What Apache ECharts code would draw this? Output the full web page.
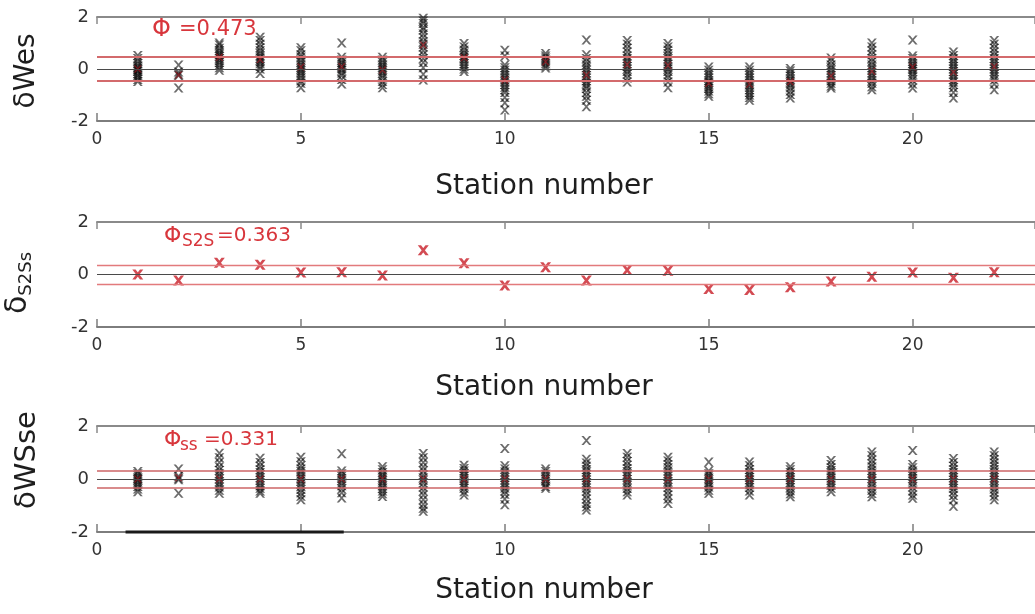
<!DOCTYPE html>
<html><head><meta charset="utf-8">
<script src="https://cdn.jsdelivr.net/npm/echarts@6/dist/echarts.min.js"></script>
<style>html,body{margin:0;padding:0;background:#fff}#c{width:1035px;height:614px}</style>
</head><body><div id="c"></div>
<script>
// ---------- data ----------
const stations = [1,2,3,4,5,6,7,8,9,10,11,12,13,14,15,16,17,18,19,20,21,22];
const xMin = 0, xMax = 23, xStep = 5;
const yMin = -2, yMax = 2, yStep = 2;
const phiValues = [0.473, 0.363, 0.331];
const phiLabels = ['', 'S2S', 'ss'];
const phiTexts = ['=0.473', '=0.363', '=0.331'];
const yNames = ['δWes', 'δS2Ss', 'δWSse'];
const xName = 'Station number';

// station terms (red crosses, middle panel)
const s2s = [0.0,-0.23,0.45,0.37,0.08,0.09,-0.04,0.92,0.43,-0.42,0.28,-0.23,0.17,0.14,-0.55,-0.59,-0.49,-0.27,-0.09,0.08,-0.12,0.09];

// event terms per station (top panel)
const wesEvents = [
  [0.52,0.4,0.3,0.2,0.12,0.05,0,-0.05,-0.1,-0.18,-0.25,-0.32,-0.4,-0.48],
  [0.15,-0.12,-0.2,-0.25,-0.73],
  [1.0,0.92,0.8,0.7,0.62,0.55,0.48,0.4,0.33,0.25,0.15,0.05,-0.05],
  [1.22,1.1,0.95,0.82,0.7,0.6,0.5,0.42,0.35,0.28,0.2,0.1,0,-0.17],
  [0.82,0.7,0.55,0.45,0.35,0.25,0.15,0.08,0,-0.08,-0.15,-0.25,-0.35,-0.45,-0.55,-0.72],
  [1.0,0.45,0.35,0.25,0.18,0.1,0.02,-0.05,-0.15,-0.25,-0.4,-0.58],
  [0.45,0.35,0.25,0.15,0.08,0,-0.08,-0.15,-0.25,-0.35,-0.48,-0.6,-0.72],
  [1.95,1.85,1.75,1.6,1.5,1.35,1.2,1.05,0.95,0.85,0.7,0.55,0.4,0.25,0.05,-0.2,-0.42],
  [0.98,0.85,0.72,0.62,0.52,0.45,0.38,0.3,0.2,0.1,0,-0.1],
  [0.72,0.5,0.15,0.05,-0.05,-0.15,-0.25,-0.35,-0.42,-0.5,-0.6,-0.7,-0.8,-0.9,-1.1,-1.3,-1.58],
  [0.6,0.5,0.42,0.35,0.28,0.2,0.12,0.04],
  [1.12,0.55,0.4,0.28,0.15,0.05,-0.05,-0.15,-0.25,-0.35,-0.45,-0.55,-0.65,-0.75,-0.9,-1.05,-1.2,-1.45],
  [1.1,0.95,0.8,0.65,0.5,0.4,0.3,0.2,0.1,0,-0.1,-0.2,-0.35,-0.5],
  [0.98,0.85,0.72,0.6,0.48,0.38,0.28,0.18,0.08,0,-0.1,-0.22,-0.35,-0.5,-0.72],
  [0.08,-0.05,-0.15,-0.25,-0.35,-0.45,-0.52,-0.6,-0.68,-0.75,-0.85,-0.95,-1.05],
  [0.08,-0.05,-0.15,-0.25,-0.35,-0.45,-0.55,-0.62,-0.7,-0.8,-0.9,-1.0,-1.1,-1.2],
  [0.02,-0.08,-0.18,-0.28,-0.38,-0.46,-0.54,-0.62,-0.72,-0.85,-0.98,-1.12],
  [0.42,0.3,0.15,0.05,-0.05,-0.15,-0.25,-0.35,-0.45,-0.55,-0.65,-0.73],
  [1.0,0.85,0.7,0.55,0.4,0.28,0.15,0.05,-0.05,-0.15,-0.25,-0.35,-0.45,-0.55,-0.68,-0.8],
  [1.12,0.5,0.4,0.3,0.2,0.12,0.05,-0.02,-0.1,-0.2,-0.3,-0.42,-0.58,-0.73],
  [0.65,0.52,0.4,0.3,0.2,0.1,0,-0.1,-0.2,-0.3,-0.4,-0.5,-0.6,-0.72,-0.9,-1.12],
  [1.1,0.95,0.8,0.65,0.52,0.4,0.3,0.2,0.1,0,-0.1,-0.2,-0.3,-0.42,-0.58,-0.8]
];

// within-station residuals per station (bottom panel)
const wsseEvents = [
  [0.28,0.2,0.12,0.05,0,-0.05,-0.12,-0.2,-0.28,-0.38,-0.48],
  [0.38,0.1,0.03,-0.03,-0.54],
  [0.97,0.8,0.62,0.45,0.32,0.2,0.1,0,-0.1,-0.2,-0.3,-0.42,-0.54],
  [0.78,0.62,0.48,0.35,0.25,0.15,0.05,-0.05,-0.15,-0.25,-0.35,-0.45,-0.54],
  [0.82,0.65,0.5,0.38,0.28,0.18,0.08,0,-0.08,-0.18,-0.28,-0.4,-0.52,-0.65,-0.78],
  [0.95,0.3,0.2,0.1,0.02,-0.06,-0.15,-0.25,-0.38,-0.52,-0.72],
  [0.46,0.35,0.25,0.15,0.08,0,-0.08,-0.15,-0.25,-0.35,-0.45,-0.56,-0.66],
  [0.96,0.8,0.62,0.45,0.3,0.15,0.05,-0.05,-0.15,-0.3,-0.45,-0.6,-0.78,-0.95,-1.1,-1.22],
  [0.52,0.4,0.3,0.2,0.1,0.02,-0.06,-0.15,-0.25,-0.35,-0.48,-0.6],
  [1.15,0.5,0.38,0.26,0.16,0.06,-0.04,-0.14,-0.24,-0.34,-0.45,-0.58,-0.75,-0.97],
  [0.38,0.28,0.18,0.08,0,-0.08,-0.18,-0.28,-0.35],
  [1.45,0.75,0.6,0.48,0.36,0.26,0.16,0.06,-0.04,-0.14,-0.24,-0.34,-0.46,-0.6,-0.75,-0.92,-1.05,-1.17],
  [0.96,0.82,0.66,0.52,0.4,0.28,0.18,0.08,-0.02,-0.12,-0.24,-0.36,-0.48,-0.6],
  [0.82,0.68,0.55,0.42,0.3,0.2,0.1,0,-0.1,-0.2,-0.32,-0.45,-0.6,-0.75,-0.92],
  [0.64,0.3,0.2,0.12,0.04,-0.04,-0.12,-0.2,-0.3,-0.42,-0.54],
  [0.64,0.5,0.36,0.25,0.15,0.06,-0.03,-0.12,-0.22,-0.32,-0.45,-0.6],
  [0.46,0.35,0.25,0.15,0.06,-0.03,-0.12,-0.22,-0.32,-0.44,-0.56,-0.67],
  [0.7,0.55,0.42,0.32,0.22,0.13,0.04,-0.05,-0.14,-0.24,-0.35,-0.48],
  [1.02,0.88,0.72,0.58,0.45,0.33,0.22,0.12,0.02,-0.08,-0.18,-0.3,-0.42,-0.55,-0.67],
  [1.08,0.55,0.42,0.3,0.2,0.1,0.02,-0.08,-0.18,-0.3,-0.45,-0.6,-0.73],
  [0.77,0.62,0.48,0.36,0.25,0.15,0.05,-0.05,-0.15,-0.25,-0.36,-0.48,-0.62,-0.78,-1.03],
  [1.02,0.88,0.74,0.6,0.48,0.36,0.25,0.15,0.05,-0.05,-0.15,-0.26,-0.38,-0.5,-0.64,-0.78]
];
// station means of within-station residuals (red in bottom panel)
const wsseMean = [0,0.05,0,0,0,0,0,0,0,0,0,0,0,0,0,0,0,0,0,0,0,0];
// stray black bar along the bottom of the lower panel (x extent)
const scaleBarX = [0.7, 6.05];

// ---------- styling / layout ----------
const FONT = 'DejaVu Sans';
const grids = [
  {left: 97, top: 17, width: 943, height: 104},
  {left: 97, top: 222, width: 943, height: 105},
  {left: 97, top: 426, width: 943, height: 106}
];
const crossMid = 'path://M0,0L2.3,0L10,10L7.7,10Z M7.7,0L10,0L2.3,10L0,10Z';
const crossBold = 'path://M0,0L3,0L10,10L7,10Z M7,0L10,0L3,10L0,10Z';
const redLine = ['#d36a6c', '#e27a7c', '#cc6466'];
const redLineW = [2, 1.3, 1.6];

function pairs(events) {
  const out = [];
  events.forEach((vals, i) => vals.forEach(v => out.push([stations[i], v])));
  return out;
}
function pts(vals) { return vals.map((v, i) => [stations[i], v]); }

const xAxes = [], yAxes = [];
grids.forEach((g, gi) => {
  xAxes.push({
    type: 'value', gridIndex: gi, position: 'bottom', min: xMin, max: xMax, interval: xStep,
    axisLine: {show: true, onZero: false, lineStyle: {color: '#7d7d7d', width: 2}},
    axisTick: {show: true, inside: true, length: 8, lineStyle: {color: '#7d7d7d', width: 1.5}},
    axisLabel: {show: true, margin: 10, fontFamily: FONT, fontSize: 17, color: '#333', showMaxLabel: false},
    splitLine: {show: false}
  });
  xAxes.push({
    type: 'value', gridIndex: gi, position: 'top', min: xMin, max: xMax, interval: xStep,
    axisLine: {show: true, onZero: false, lineStyle: {color: '#8a8a8a', width: 2}},
    axisTick: {show: true, inside: true, length: 7, lineStyle: {color: '#8a8a8a', width: 1.5}},
    axisLabel: {show: false}, splitLine: {show: false}
  });
  yAxes.push({
    type: 'value', gridIndex: gi, min: yMin, max: yMax, interval: yStep,
    axisLine: {show: false}, axisTick: {show: false}, splitLine: {show: false},
    axisLabel: {margin: 8, fontFamily: FONT, fontSize: 18, color: '#333'}
  });
});

function refLines(gi) {
  const p = phiValues[gi];
  return {
    type: 'line', xAxisIndex: gi * 2, yAxisIndex: gi, data: [], z: 1, silent: true,
    markLine: {
      silent: true, symbol: 'none', animation: false, label: {show: false},
      data: [
        {yAxis: p, lineStyle: {color: redLine[gi], width: redLineW[gi], type: 'solid'}},
        {yAxis: -p, lineStyle: {color: redLine[gi], width: redLineW[gi], type: 'solid'}},
        {yAxis: 0, lineStyle: {color: '#4a4a4a', width: 1, type: 'solid'}}
      ]
    }
  };
}

const series = [
  refLines(0),
  {type: 'scatter', xAxisIndex: 0, yAxisIndex: 0, z: 3, symbol: crossMid, symbolSize: [10, 9],
   itemStyle: {color: 'rgba(0,0,0,0.72)'}, data: pairs(wesEvents)},
  {type: 'scatter', xAxisIndex: 0, yAxisIndex: 0, z: 4, symbol: crossMid, symbolSize: [8, 7],
   itemStyle: {color: 'rgba(180,25,35,0.75)'}, data: pts(s2s)},
  refLines(1),
  {type: 'scatter', xAxisIndex: 2, yAxisIndex: 1, z: 3, symbol: crossBold, symbolSize: [11, 10],
   itemStyle: {color: '#c81e28'}, data: pts(s2s)},
  refLines(2),
  {type: 'scatter', xAxisIndex: 4, yAxisIndex: 2, z: 3, symbol: crossMid, symbolSize: [10, 9],
   itemStyle: {color: 'rgba(0,0,0,0.72)'}, data: pairs(wsseEvents)},
  {type: 'scatter', xAxisIndex: 4, yAxisIndex: 2, z: 4, symbol: crossMid, symbolSize: [8, 7],
   itemStyle: {color: 'rgba(180,25,35,0.75)'}, data: pts(wsseMean)},
  {type: 'line', xAxisIndex: 4, yAxisIndex: 2, z: 5, clip: false, symbol: 'none', silent: true,
   lineStyle: {color: '#1a1a1a', width: 3}, data: [[scaleBarX[0], yMin], [scaleBarX[1], yMin]]}
];

// ---------- text graphics ----------
const xNameY = [187, 388, 591];
const yNameY = [71, 283, 460];
const annY = [30, 236, 440];
const graphic = [];
grids.forEach((g, gi) => {
  graphic.push({type: 'text', x: 544, y: xNameY[gi], silent: true,
    style: {text: xName, font: '28px ' + FONT, fill: '#1e1e1e', align: 'center', verticalAlign: 'middle'}});
});
// y titles (rotated)
graphic.push({type: 'text', x: 27, y: yNameY[0], rotation: Math.PI / 2, silent: true,
  style: {text: yNames[0], font: '28px ' + FONT, fill: '#1e1e1e', align: 'center', verticalAlign: 'middle'}});
graphic.push({type: 'text', x: 16, y: yNameY[1], rotation: Math.PI / 2, silent: true,
  style: {text: '{d|δ}{s|S2Ss}', align: 'center', verticalAlign: 'middle',
    rich: {d: {fontFamily: FONT, fontSize: 30, fill: '#1e1e1e', lineHeight: 34, verticalAlign: 'bottom'},
           s: {fontFamily: FONT, fontSize: 18, fill: '#1e1e1e', lineHeight: 34, verticalAlign: 'bottom', padding: [0, 0, -2, 0]}}}});
graphic.push({type: 'text', x: 27, y: yNameY[2], rotation: Math.PI / 2, silent: true,
  style: {text: yNames[2], font: '29px ' + FONT, fill: '#1e1e1e', align: 'center', verticalAlign: 'middle'}});

// phi annotations
const red = '#d8363c';
graphic.push({type: 'text', x: 152, y: annY[0], silent: true,
  style: {text: 'Φ', font: '24px ' + FONT, fill: red, align: 'left', verticalAlign: 'middle'}});
graphic.push({type: 'text', x: 179, y: annY[0], silent: true,
  style: {text: phiTexts[0], font: '21px ' + FONT, fill: red, align: 'left', verticalAlign: 'middle'}});
const subX = [0, 182, 180];
const eqX = [0, 217, 204];
[1, 2].forEach(gi => {
  graphic.push({type: 'text', x: 164, y: annY[gi], silent: true,
    style: {text: 'Φ', font: '22px ' + FONT, fill: red, align: 'left', verticalAlign: 'middle'}});
  graphic.push({type: 'text', x: subX[gi], y: annY[gi] + 6, silent: true,
    style: {text: phiLabels[gi], font: '17px ' + FONT, fill: red, align: 'left', verticalAlign: 'middle'}});
  graphic.push({type: 'text', x: eqX[gi], y: annY[gi], silent: true,
    style: {text: phiTexts[gi], font: '20px ' + FONT, fill: red, align: 'left', verticalAlign: 'middle'}});
});

const chart = echarts.init(document.getElementById('c'), null, {renderer: 'canvas'});
chart.setOption({
  animation: false,
  backgroundColor: '#fff',
  grid: grids,
  xAxis: xAxes,
  yAxis: yAxes,
  series: series,
  graphic: graphic
});
</script>
</body></html>
